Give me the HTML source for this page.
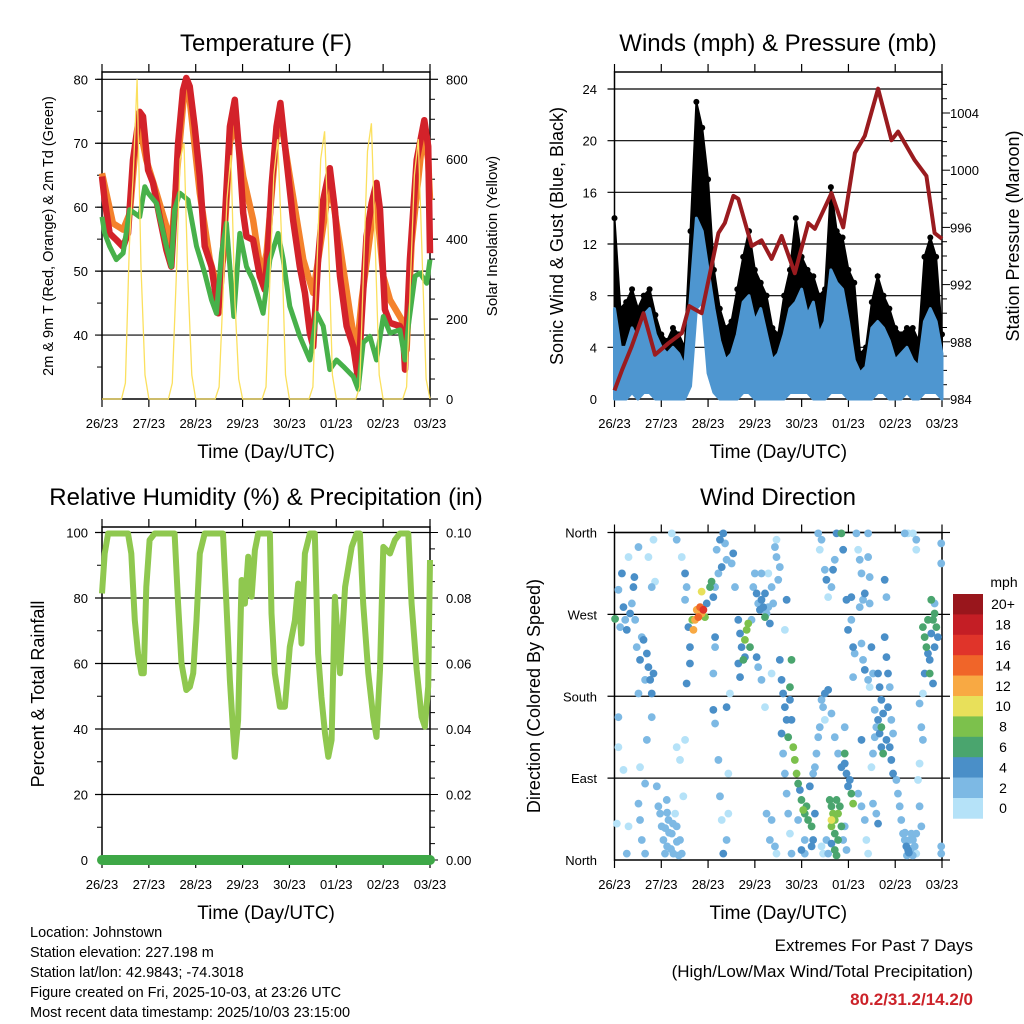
<!DOCTYPE html>
<html><head><meta charset="utf-8"><style>
html,body{margin:0;padding:0;background:#fff}
svg{display:block;font-family:"Liberation Sans",Arial,sans-serif}
</style></head><body>
<svg id="fig" width="1024" height="1024" viewBox="0 0 1024 1024" xmlns="http://www.w3.org/2000/svg">
<rect x="0" y="0" width="1024" height="1024" fill="#fff"/>
<g id="p1"></g>
<g id="p2"></g>
<g id="p3"></g>
<g id="p4"></g>
<g id="cbar"></g>
<g font-size="14.5" fill="#000">
<text x="30" y="937">Location: Johnstown</text>
<text x="30" y="957">Station elevation: 227.198 m</text>
<text x="30" y="977">Station lat/lon: 42.9843; -74.3018</text>
<text x="30" y="997">Figure created on Fri, 2025-10-03, at 23:26 UTC</text>
<text x="30" y="1017">Most recent data timestamp: 2025/10/03 23:15:00</text>
</g>
<g text-anchor="end">
<text x="973" y="951" font-size="17">Extremes For Past 7 Days</text>
<text x="973" y="977" font-size="17">(High/Low/Max Wind/Total Precipitation)</text>
<text x="973" y="1005" font-size="17" font-weight="bold" fill="#cc2229">80.2/31.2/14.2/0</text>
</g>
</svg>
<script>
// ---------- DATA ----------
const dayLabels=["26/23","27/23","28/23","29/23","30/23","01/23","02/23","03/23"];
// Temperature 2m (red): hours, degF
const t2Hours=[0,1.4,3.9,7.3,10.8,13.3,15.9,19.3,21.0,23.6,26.1,29.5,33.0,35.5,37.2,39.0,41.5,43.2,44.9,47.5,50.1,52.6,56.1,58.6,59.5,61.2,62.9,65.5,68.0,70.6,72.3,74.0,77.4,80.8,83.4,85.1,86.8,89.4,91.4,94.5,97.9,101.3,103.9,106.5,108.2,110.7,113.3,116.7,119.3,121.9,125.3,128.7,131.2,132.9,135.5,138.1,140.6,142.4,144.9,147.5,152.6,154.3,155.2,157.7,161.2,165.1,167.1,168];
const t2Vals=[64.8,61.1,55.9,54.9,53.8,55.9,67.4,74.9,74.2,65.8,63.8,58.5,53.3,50.7,59.6,70.0,78.3,80.2,78.9,72.6,64.8,53.9,50.7,45.5,43.4,49.2,58.0,72.6,76.8,67.4,59.1,55.4,54.9,49.2,47.1,53.9,63.2,72.6,76.3,67.4,58.0,50.7,46.6,40.3,38.2,51.8,61.1,66.1,59.6,49.2,41.4,38.2,33.0,42.4,55.4,60.6,63.8,59.6,44.0,41.9,41.4,39.8,34.6,51.8,67.4,73.6,69.5,52.8];
// Temperature 9m (orange)
const t9Hours=[0,2.2,5.6,10.8,14.2,17.6,19.3,22.7,27.9,33.0,35.5,39.0,42.4,44.9,50.1,55.2,59.5,62.0,65.5,68.0,72.3,77.4,81.7,84.3,89.4,91.9,96.2,103.1,108.2,113.3,116.7,121.9,127.0,130.4,133.0,139.0,140.6,144.1,147.5,153.5,156.0,158.6,164.6,167.1,168];
const t9Vals=[65.3,62.2,57.5,56.5,59.0,71.0,72.6,67.4,62.2,57.0,53.9,67.4,78.9,76.8,62.2,51.8,47.1,51.8,70.0,73.6,64.8,58.0,49.2,52.8,71.0,73.1,64.8,51.8,46.6,57.0,64.3,53.9,43.4,37.2,45.5,59.6,60.6,49.2,45.5,42.4,37.7,54.4,72.1,67.4,61.1];
// Dewpoint 2m (green)
const tdHours=[0,1.4,3.9,7.3,10.8,14.2,19.3,21.9,23.6,27.9,33.0,35.5,37.2,39.8,44.1,48.4,52.6,56.1,58.6,61.2,63.7,67.5,70.6,74.0,77.4,82.5,86.0,90.2,92.8,96.2,101.3,106.5,109.9,113.3,116.7,120.1,123.6,128.7,131.2,133.8,137.2,140.6,144.1,147.5,152.6,155.2,156.9,160.3,162.9,166.3,168];
const tdVals=[58.5,55.9,53.9,51.8,52.8,59.6,58.5,63.2,62.2,60.6,53.9,50.7,59.6,62.2,61.1,53.9,49.7,45.5,43.4,52.8,57.5,42.9,55.9,50.7,48.6,43.4,51.8,55.9,51.8,44.5,39.8,36.1,43.4,41.4,34.6,36.1,35.1,33.5,31.5,38.8,39.8,36.1,42.9,40.3,40.8,36.1,41.4,49.2,49.7,48.1,51.8];
// Solar insolation every 2 h from hour 0 (W/m2)
const solarVals=[
0,0,0,0,0,0,40,380,560,800,330,60,
0,0,0,0,0,0,40,300,600,640,300,60,
0,0,0,0,0,0,30,260,500,610,250,50,
0,0,0,0,0,0,30,300,560,650,400,60,
0,0,0,0,0,0,30,320,600,670,400,60,
0,0,0,0,0,0,30,330,620,690,380,60,
0,0,0,0,0,0,30,300,560,650,350,50,0];
// Wind every 3 h: sonic wind low/high (blue), gust (black), mph
const windLo=[0,0,0,0.5,0,0.5,0.5,0,0,0,0,0,0,1,7,7.5,2,0.5,0,0,0,0,0.5,0.5,0,0,0,0,0,0,0.5,0.5,0.5,0.5,0,0,0,0.5,0.5,0.5,0,0,0,0,0,0.5,0.5,0,0,0,0.5,0,0,0.5,0.5,0.5,0];
const windHi=[7,4,4,5.5,4.5,6.5,7,5,4,3.5,4,3.5,2.5,8,14,13,10,7,4.5,3,3.5,5,7.5,8,6,7,5,3,3.5,5,7,7.5,8.5,6.5,7.5,5,6,10,9,8.5,6,3,2,2.5,5.5,6,5.5,4.5,3,3.5,4,3,2.5,6,7,6,3.5];
const gustVals=[14,7,7.5,8.5,7,8,8.5,6.5,5,4.5,5.5,5,4,13,23,21,17,10,7,5.5,6,8.5,11,13,10,9,8,5.5,5,8,10,14,11,10,9.5,8,8.5,16.4,13,12.5,10,9,3.5,4,7.5,9.5,8,7,5.5,5,5.5,5.5,4.5,11,12.5,11,5];
// Station pressure (mb)
const presHours=[0,3.8,8.9,14.9,20.8,27.7,34.5,38.3,44.7,53.3,56.6,61.0,63.5,70.4,75.4,80.6,85.7,92.5,99.4,102.8,111.3,117.3,123.3,128.4,135.2,142.1,145.5,154.0,160.0,164.2,168];
const presVals=[984.6,986.0,987.7,990.0,987.1,987.9,988.6,990.5,990.0,995.6,996.3,998.2,998.0,994.7,995.1,993.8,995.4,992.8,996.3,995.9,998.4,996.0,1001.2,1002.4,1005.7,1002.1,1002.7,1000.7,999.6,995.6,995.2];
// Relative humidity (%)
const rhHours=[0,1.4,3.1,13.3,15.0,16.8,18.5,20.2,21.4,22.7,24.4,27.0,37.2,39.0,40.7,43.2,45.0,46.7,48.4,50.1,52.6,62.0,63.7,65.5,67.2,68.0,69.7,71.5,73.2,74.9,76.6,78.3,80.0,86.0,86.8,88.5,91.1,93.7,96.2,98.8,100.5,102.2,103.9,106.5,109.0,110.7,112.4,114.2,115.9,117.6,119.3,121.9,124.5,127.9,130.4,132.1,133.8,136.4,138.9,140.6,142.4,144.1,147.5,150.0,152.6,156.9,158.6,161.2,163.7,165.4,167.1,168];
const rhVals=[81.4,93.6,99.7,99.7,93.6,73.2,63,57,57,83.4,97.7,99.7,99.7,78.3,60,51.9,52.9,57,73.2,93.6,99.7,99.7,78.3,54.9,38.7,31.5,42.7,85.5,78.3,92.6,80.4,94.6,99.7,99.7,75.3,57,46.8,46.8,65.1,73.2,84.4,66.1,93.6,99.7,99.7,63,49.8,38.7,31.5,36.6,80.4,57,83.4,95.6,99.7,99.7,78.3,57,43.7,37.6,58,95.6,93.6,97.7,99.7,99.7,78.3,58,43.7,40.7,52.9,91.6];
// Precipitation accumulated (in), hours
const precipHours=[0,168];
const precipVals=[0,0];
// Wind direction observations: [hour, degrees, speed mph]
const windObs=[[0.3,265,6],[2,297,2],[2.9,256,2],[3.8,315,4],[4.6,278,4],[5.5,264,2],[6.3,253,4],[7.2,333,0],[8,271,4],[8.9,282,2],[9.7,300,4],[10.2,311,4],[10.6,264,2],[11.4,234,2],[12.3,344,2],[12.3,183,2],[13.1,220,4],[14,245,2],[14.9,242,4],[15.7,198,2],[16.6,227,4],[17.4,212,4],[18.3,198,4],[19.1,183,4],[20,205,4],[2,157,2],[2,124,0],[1.2,40,0],[7.2,37,0],[4.6,99,0],[6.3,7,2],[12.3,62,2],[13.1,44,2],[14,22,2],[15.7,7,2],[19.1,300,2],[20.8,306,0],[20,352,0],[15.7,84,2],[16.6,132,2],[19.1,157,2],[21.7,81,2],[22.5,59,2],[23.4,51,2],[24.2,37,2],[25.1,22,2],[25.9,7,2],[27.7,44,2],[29.4,29,2],[30.2,7,2],[31.9,37,2],[33.6,22,2],[34.5,7,2],[26.8,66,2],[31.1,51,0],[35.3,70,0],[33.6,110,0],[31.9,124,0],[36.2,132,0],[13.1,102,0],[17.4,333,0],[27,15,2],[28,30,2],[29,12,2],[32,20,2],[33,5,2],[26,35,2],[30,40,2],[27,52,2],
[29.4,359,0],[31.9,352,2],[34.5,333,0],[36.2,315,4],[37,300,2],[36.2,286,2],[37.9,256,4],[38.7,234,4],[38.7,216,4],[37,194,4],[39.9,264,8],[40.5,253,12],[41.3,264,12],[42.2,275,12],[43,267,14],[43.9,278,14],[44.7,271,12],[45.6,275,16],[44.7,295,10],[46.4,267,8],[47.3,282,4],[49,300,6],[49.8,306,6],[50.7,289,4],[51.6,300,2],[52.4,341,2],[53.3,315,2],[54.1,352,4],[55,322,4],[55.8,359,4],[56.7,348,2],[57.5,330,2],[51.6,245,4],[50.7,205,2],[51.6,234,2],[50.7,165,4],[51.6,150,2],[53.3,110,2],[54.1,70,2],[55,44,0],[55.8,7,4],[57.5,22,2],[58.4,51,0],[58.4,95,0],[57.5,168,4],[59.2,183,0],[60.1,326,2],[60.9,337,4],[61.8,300,2],[63.5,264,4],[64.4,249,4],[65.2,234,4],[66.1,220,6],[66.9,242,8],[67.8,253,8],[68.6,260,8],[69.5,234,6],[63.5,216,4],[64.4,201,4],[66.9,223,4],[70.3,264,2],[71.2,300,2],[72,315,2],[72.9,293,4],[73.7,282,2],[74.6,275,4],[75.4,286,4],[76.3,278,4],[77.2,267,6],[77.2,293,4],[78,271,2],[78.9,278,2],[79.7,260,4],[80.6,300,2],[81.4,282,2],[82.3,344,2],[83.1,333,2],[84,308,2],[84.8,322,2],[78.9,315,0],[75.4,315,2],[72.9,223,4],[73.7,212,2],[75.4,198,2],[77.2,168,0],[80.6,205,0],[79.7,22,2],[80.6,44,2],[82.3,15,2],[83.1,7,0],[78,51,2],[83.1,352,0],[87.4,253,0],[88.3,286,4],
[84.8,220,4],[85.7,198,4],[86.5,183,4],[87.4,168,4],[88.3,154,4],[89.1,135,6],[90.8,220,6],[90,190,6],[90,176,4],[90.8,154,4],[91.7,124,8],[92.5,110,8],[93.4,95,8],[94.2,84,6],[95.1,77,4],[95.9,66,6],[96.8,55,8],[97.6,51,6],[98.5,59,6],[99.3,44,6],[101.1,37,6],[101.9,22,4],[102.8,51,4],[101.1,15,4],[85.7,139,4],[86.5,117,2],[87.4,95,2],[88.3,73,2],[89.1,51,2],[90,29,0],[90.8,7,2],[94.2,44,2],[97.6,22,2],[95.9,11,4],[97.6,7,2],[100.2,81,4],[101.9,95,2],[102.8,102,2],[103.6,117,2],[104.5,135,2],[105.3,146,2],[106.2,176,2],[107,168,2],[107.9,154,0],[104.5,359,2],[105.3,341,0],[106.2,352,2],[107.9,319,2],[108.7,308,4],[109.6,289,0],[111.3,300,2],[112.1,319,4],[113,330,2],[113.9,359,4],[116.4,359,6],[117.3,341,4],[107.9,183,4],[109.6,187,4],[111.3,161,2],[113,135,2],[114.7,117,2],[116.4,102,4],[118.1,117,6],[119,95,4],[120.7,88,4],[121.5,73,6],[122.4,62,8],[110.4,66,6],[111.3,59,6],[112.1,51,8],[113,44,8],[113.9,66,6],[114.7,51,8],[115.6,59,6],[111.3,44,10],[111.3,37,8],[113,29,6],[114.7,22,6],[113,11,6],[116.4,37,6],[113.9,5,6],[108.7,22,2],[106.2,15,0],[107,7,0],[109.6,7,2],[111.3,18,4],[118.1,106,4],[119.8,81,4],[117.3,22,2],[118.1,37,2],[119,11,2],[119,286,4],[119.8,253,4],[121.5,264,2],[121.5,289,4],[122.4,234,4],[122.4,201,2],[123.2,227,2],[118.1,146,2],
[124.1,359,2],[125,341,0],[125.8,330,2],[126.7,315,2],[127.5,286,2],[128.4,293,4],[125.8,278,2],[126.7,238,2],[127.5,220,2],[128.4,209,4],[130.1,198,2],[130.9,190,0],[131.8,234,4],[132.6,205,2],[133.5,165,2],[134.3,146,2],[132.6,117,2],[131.8,102,0],[133.5,135,2],[130.1,359,2],[130.1,333,2],[130.9,311,2],[130.9,282,2],[126.7,132,4],[125,73,2],[126.7,59,2],[128.4,44,2],[129.2,22,0],[130.1,7,0],[132.6,62,2],[134.3,51,2],[135.2,40,4],[135.2,205,4],[136,190,4],[136.9,176,4],[137.8,161,4],[135.2,154,4],[136,139,4],[136.9,124,4],[137.8,117,6],[139.5,132,4],[141.2,124,4],[142,110,4],[142.9,95,4],[138.6,308,4],[139.5,289,2],[138.6,245,4],[139.5,223,4],[140.3,205,4],[141.2,190,2],[140.3,168,4],[136.9,146,6],[142,154,2],[142.9,139,2],[144.6,88,2],[145.4,73,2],[146.3,59,2],[147.1,44,2],[148,29,2],[148.9,22,2],[149.7,15,4],[150.6,11,4],[151.4,22,2],[152.3,29,2],[153.1,22,2],[154,15,2],[154.8,29,2],[154.8,7,0],[148.9,359,2],[150.6,359,0],[153.1,359,0],[154.8,352,2],[154.8,341,0],[156.5,172,2],[157.4,146,2],[158.2,132,2],[156.5,106,0],[155.7,88,0],[156.5,59,2],[157.4,37,2],[158.2,256,6],[159.1,245,6],[160,234,6],[160.8,227,4],[161.7,220,4],[162.5,249,4],[163.4,264,6],[164.2,271,6],[165.1,256,6],[165.9,245,4],[162.5,286,6],[164.2,282,2],[161.7,205,6],[163.4,194,4],[159.1,205,4],[167.6,348,2],[167.6,326,2],[167.6,15,2],[167.6,7,2],[158.2,183,0],[160.8,264,6],[164.2,234,4],[150,5,2],[151,8,4],[152,12,2],[149,30,2],[153,5,2]];
const speedLabels=["0","2","4","6","8","10","12","14","16","18","20+"];
const speedColors=["#b5e2f8","#7db9e4","#4a8fc8","#4aa56e","#7cc14c","#e8e05a","#f8a943","#f06529","#e0342a","#c41e25","#99161c"];

// ---------- HELPERS ----------
const NS="http://www.w3.org/2000/svg";
function el(parent,tag,attrs,text){const e=document.createElementNS(NS,tag);for(const k in attrs)e.setAttribute(k,attrs[k]);if(text!==undefined)e.textContent=text;parent.appendChild(e);return e;}
function lin(d0,d1,r0,r1){return v=>r0+(v-d0)*(r1-r0)/(d1-d0);}

function frame(g,L,R,T,B,x,yGrid,name){
  yGrid.forEach(v=>{const ln=el(g,'line',{x1:L-7,x2:R,y1:v,y2:v,stroke:'#000','stroke-width':1.2});
    
    });
  const r=el(g,'rect',{x:L,y:T,width:R-L,height:B-T,fill:'none',stroke:'#000','stroke-width':1.5});
  
  
  for(let d=0;d<=7;d++){const px=x(d*24);
    el(g,'line',{x1:px,x2:px,y1:T,y2:T-8,stroke:'#000','stroke-width':1.2});
    el(g,'line',{x1:px,x2:px,y1:B,y2:B+8,stroke:'#000','stroke-width':1.2});
    const t=el(g,'text',{x:px,y:B+29,'font-size':13,'text-anchor':'middle'},dayLabels[d]);
    
    }
  const xt=el(g,'text',{x:(L+R)/2,y:B+59,'font-size':19,'text-anchor':'middle'},'Time (Day/UTC)');
  
  
}
function title(g,x,y,txt,name){const t=el(g,'text',{x:x,y:y,'font-size':24,'text-anchor':'middle'},txt);
  
  }
function vtitle(g,x,y,txt,size,name){const t=el(g,'text',{x:x,y:y,'font-size':size,'text-anchor':'middle',transform:`rotate(-90 ${x} ${y})`},txt);
  
  }
function path(hs,vs,x,y){return hs.map((h,i)=>(i?'L':'M')+x(h).toFixed(1)+','+y(vs[i]).toFixed(1)).join('');}

// ---------- PANEL 1 ----------
(function(){
  const g=document.getElementById('p1');const L=102,R=430,T=72,B=399;
  const x=lin(0,168,L,R), y=lin(30,80,B,79.3), ys=lin(0,800,B,79.3);
  title(g,266,51,'Temperature (F)','temperature-title');
  frame(g,L,R,T,B,x,[40,50,60,70,80].map(y),'temperature');
  [40,50,60,70,80].forEach(v=>{const t=el(g,'text',{x:88,y:y(v)+5,'font-size':13,'text-anchor':'end'},v);
    
    });
  for(let v=35;v<=80;v+=5) el(g,'line',{x1:L,x2:L-5,y1:y(v),y2:y(v),stroke:'#000'});
  [0,200,400,600,800].forEach(v=>{el(g,'line',{x1:R,x2:R+8,y1:ys(v),y2:ys(v),stroke:'#000','stroke-width':1.2});
    const t=el(g,'text',{x:446,y:ys(v)+5,'font-size':13},v);
    
    });
  for(let v=50;v<800;v+=50) el(g,'line',{x1:R,x2:R+5,y1:ys(v),y2:ys(v),stroke:'#000'});
  vtitle(g,53,236,'2m & 9m T (Red, Orange) & 2m Td (Green)',14.5,'temp-y-axis-title');
  vtitle(g,497,236,'Solar Insolation (Yellow)',15,'solar-y-axis-title');
  let p=el(g,'path',{d:path(t9Hours,t9Vals,x,y),fill:'none',stroke:'#f4822c','stroke-width':6.5,'stroke-linejoin':'round'});
  
  
  p=el(g,'path',{d:path(t2Hours,t2Vals,x,y),fill:'none',stroke:'#d3222a','stroke-width':6.5,'stroke-linejoin':'round'});
  
  
  p=el(g,'path',{d:path(tdHours,tdVals,x,y),fill:'none',stroke:'#47b14a','stroke-width':5,'stroke-linejoin':'round'});
  
  
  const sh=solarVals.map((v,i)=>i*2);
  p=el(g,'path',{d:path(sh,solarVals,x,ys),fill:'none',stroke:'#fbe05e','stroke-width':1.3});
  
  
})();

// ---------- PANEL 2 ----------
(function(){
  const g=document.getElementById('p2');const L=614.5,R=942,T=72,B=399;
  const x=lin(0,168,L,R), y=lin(0,24,B,89), yp=lin(984,1004,B,113);
  title(g,778,51,'Winds (mph) & Pressure (mb)','winds-title');
  frame(g,L,R,T,B,x,[4,8,12,16,20,24].map(y),'winds');
  [0,4,8,12,16,20,24].forEach(v=>{const t=el(g,'text',{x:597,y:y(v)+5,'font-size':13,'text-anchor':'end'},v);
    
    });
  for(let v=984;v<=1006;v+=1) el(g,'line',{x1:R,x2:R+(v%4==0?8:5),y1:yp(v),y2:yp(v),stroke:'#000'});
  [984,988,992,996,1000,1004].forEach(v=>{const t=el(g,'text',{x:950,y:yp(v)+5,'font-size':13},v);
    
    });
  vtitle(g,563,236,'Sonic Wind & Gust (Blue, Black)',18,'wind-y-axis-title');
  vtitle(g,1019,236,'Station Pressure (Maroon)',18,'pressure-y-axis-title');
  const wh=windHi.map((v,i)=>i*3);
  const bandG=wh.map((h,i)=>(i?'L':'M')+x(h)+','+y(gustVals[i])).join('')+wh.slice().reverse().map(h=>'L'+x(h)+','+y(windHi[h/3])).join('')+'Z';
  let p=el(g,'path',{d:bandG,fill:'#000',stroke:'#000','stroke-width':2});
  
  
  wh.forEach((h,i)=>{const c=el(g,'circle',{cx:x(h),cy:y(gustVals[i]),r:3,fill:'#000'});
    
    });
  const bandB=wh.map((h,i)=>(i?'L':'M')+x(h)+','+y(windHi[i])).join('')+wh.slice().reverse().map(h=>'L'+x(h)+','+y(windLo[h/3])).join('')+'Z';
  p=el(g,'path',{d:bandB,fill:'#4e96d0',stroke:'#4e96d0','stroke-width':3,'stroke-linejoin':'round'});
  
  
  p=el(g,'path',{d:path(presHours,presVals,x,yp),fill:'none',stroke:'#9a1b1f','stroke-width':4,'stroke-linejoin':'round'});
  
  
})();

// ---------- PANEL 3 ----------
(function(){
  const g=document.getElementById('p3');const L=102,R=430,T=527,B=860;
  const x=lin(0,168,L,R), y=lin(0,100,B,532.5), yr=lin(0,0.1,B,532.5);
  title(g,266,505,'Relative Humidity (%) & Precipitation (in)','humidity-title');
  frame(g,L,R,T,B,x,[20,40,60,80,100].map(y),'humidity');
  [0,20,40,60,80,100].forEach(v=>{const t=el(g,'text',{x:88,y:y(v)+5,'font-size':13,'text-anchor':'end'},v);
    
    });
  for(let v=10;v<100;v+=10) el(g,'line',{x1:L,x2:L-5,y1:y(v),y2:y(v),stroke:'#000'});
  for(let v=0;v<=0.1001;v+=0.005) el(g,'line',{x1:R,x2:R+(Math.round(v*1000)%20==0?8:5),y1:yr(v),y2:yr(v),stroke:'#000'});
  [0,0.02,0.04,0.06,0.08,0.10].forEach(v=>{const t=el(g,'text',{x:446,y:yr(v)+5,'font-size':13},v.toFixed(2));
    
    });
  vtitle(g,44,694,'Percent & Total Rainfall',18,'rh-y-axis-title');
  let p=el(g,'path',{d:path(rhHours,rhVals,x,y),fill:'none',stroke:'#8fc84f','stroke-width':6,'stroke-linejoin':'round'});
  
  
  p=el(g,'path',{d:path(precipHours,precipVals,x,yr),fill:'none',stroke:'#3ea847','stroke-width':10,'stroke-linecap':'round'});
  
  
})();

// ---------- PANEL 4 ----------
(function(){
  const g=document.getElementById('p4');const L=614.5,R=942,T=532.5,B=860;
  const x=lin(0,168,L,R), y=lin(0,360,B,T);
  title(g,778,505,'Wind Direction','wind-direction-title');
  frame(g,L,R,T,B,x,[90,180,270,360].map(y),'winddir');
  const dl=["North","East","South","West","North"];
  [0,90,180,270,360].forEach((v,i)=>{const t=el(g,'text',{x:597,y:y(v)+5,'font-size':13,'text-anchor':'end'},dl[i]);
    
    });
  [0,90,180,270,360].forEach(v=>el(g,'line',{x1:R,x2:R+8,y1:y(v),y2:y(v),stroke:'#000','stroke-width':1.2}));
  vtitle(g,540,696,'Direction (Colored By Speed)',18,'direction-y-axis-title');
  const sorted=windObs.slice().sort((a,b)=>a[2]-b[2]);
  sorted.forEach(o=>{const c=el(g,'circle',{cx:x(o[0]),cy:y(o[1]),r:3.9,fill:speedColors[Math.min(10,Math.round(o[2]/2))]});
    
    });
})();

// ---------- COLORBAR ----------
(function(){
  const g=document.getElementById('cbar');const top=594,h=20.4;
  const t0=el(g,'text',{x:1004,y:587,'font-size':14,'text-anchor':'middle'},'mph');
  
  
  for(let i=0;i<11;i++){const k=10-i;
    const r=el(g,'rect',{x:953,y:top+i*h,width:30,height:h+0.3,fill:speedColors[k]});
    
    
    const t=el(g,'text',{x:1003,y:top+i*h+h/2+5,'font-size':14,'text-anchor':'middle'},speedLabels[k]);
    
    }
})();
</script>
</body></html>
